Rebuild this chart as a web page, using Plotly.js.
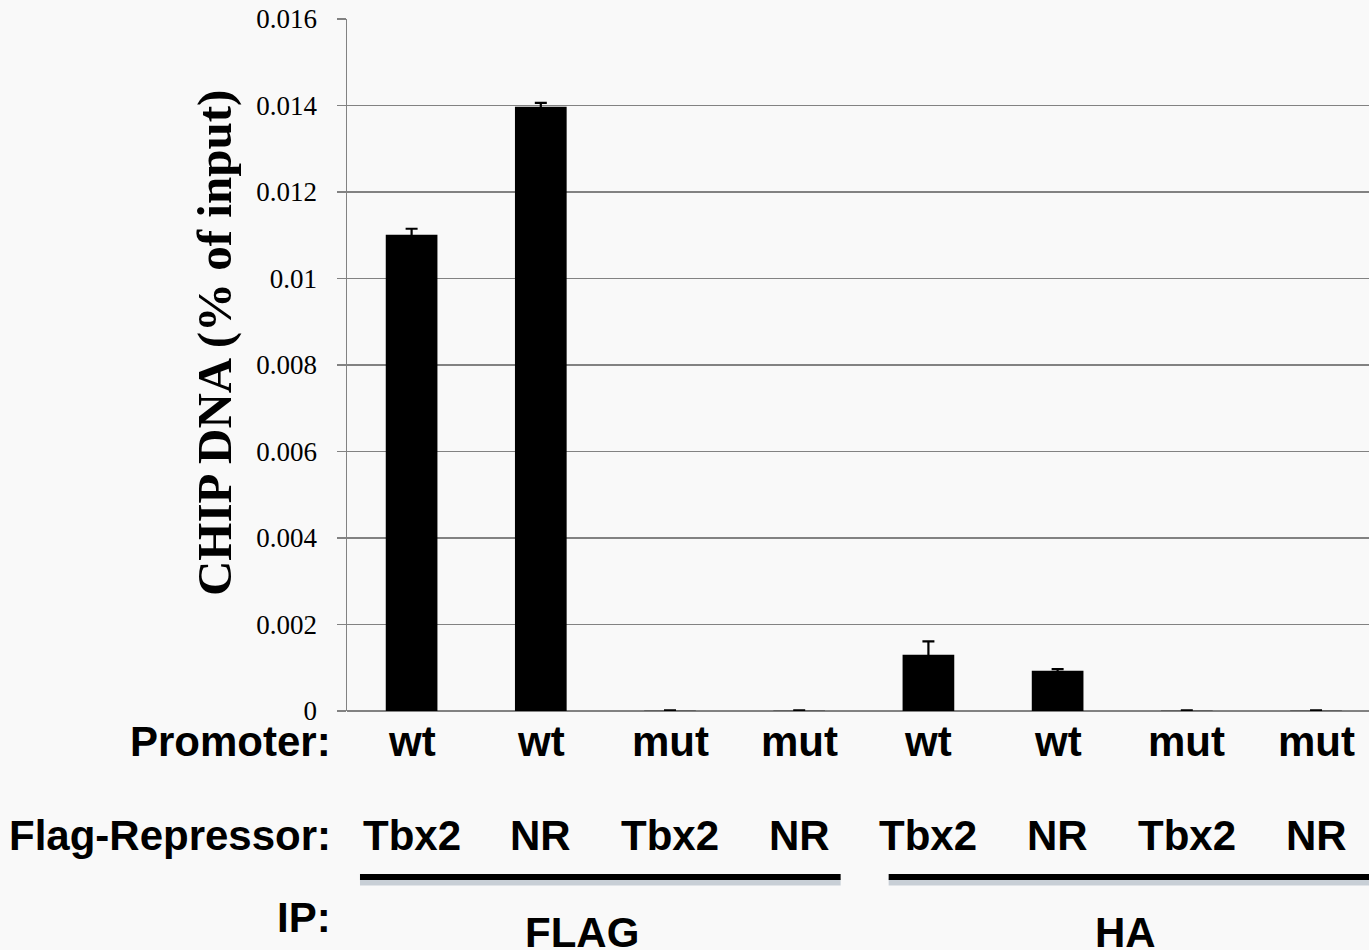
<!DOCTYPE html>
<html>
<head>
<meta charset="utf-8">
<script src="https://cdn.plot.ly/plotly-3.0.1.min.js"></script>
<style>
  html, body { margin: 0; padding: 0; background: #f9f9f9; }
  #chart { width: 1369px; height: 950px; }
</style>
</head>
<body>
<div id="chart"></div>
<script>
// ---- data ----
const promoter = ["wt", "wt", "mut", "mut", "wt", "wt", "mut", "mut"];
const repressor = ["Tbx2", "NR", "Tbx2", "NR", "Tbx2", "NR", "Tbx2", "NR"];
const ipGroups = ["FLAG", "HA"];
const values = [0.01101, 0.01397, 0.000005, 0.000005, 0.0013, 0.00093, 0.000005, 0.000005];
const errors = [0.00014, 0.00009, 0.00001, 0.00001, 0.00031, 0.00004, 0.00001, 0.00001];
const yTickVals = [0, 0.002, 0.004, 0.006, 0.008, 0.01, 0.012, 0.014, 0.016];
const yTickText = ["0", "0.002", "0.004", "0.006", "0.008", "0.01", "0.012", "0.014", "0.016"];
const yTitle = "CHIP DNA (% of input)";
const rowLabels = ["Promoter:", "Flag-Repressor:", "IP:"];

const idx = values.map((_, i) => i);

const trace = {
  type: "bar",
  x: idx,
  y: values,
  marker: { color: "#000000", line: { width: 0 } },
  error_y: { type: "data", array: errors, visible: true, color: "#000000", thickness: 2.2, width: 6 },
  hoverinfo: "skip"
};

const labelFont = { family: "Liberation Sans, Arial, sans-serif", size: 42, color: "#000000" };
const annotations = [];
promoter.forEach((p, i) => annotations.push({
  x: i, xref: "x", y: -0.044, yref: "paper", text: "<b>" + p + "</b>",
  showarrow: false, xanchor: "center", yanchor: "middle", font: labelFont
}));
repressor.forEach((r, i) => annotations.push({
  x: i, xref: "x", y: -0.18, yref: "paper", text: "<b>" + r + "</b>",
  showarrow: false, xanchor: "center", yanchor: "middle", font: labelFont
}));
const rowY = [-0.044, -0.18, -0.298];
rowLabels.forEach((t, k) => annotations.push({
  x: -0.0137, xref: "paper", y: rowY[k], yref: "paper", text: "<b>" + t + "</b>",
  showarrow: false, xanchor: "right", yanchor: "middle", font: labelFont
}));
const groupX = [0.23, 0.762];
ipGroups.forEach((g, k) => annotations.push({
  x: groupX[k], xref: "paper", y: -0.32, yref: "paper", text: "<b>" + g + "</b>",
  showarrow: false, xanchor: "center", yanchor: "middle", font: labelFont
}));
annotations.push({
  x: -0.129, xref: "paper", y: 0.532, yref: "paper", text: "<b>" + yTitle + "</b>",
  textangle: -90, showarrow: false, xanchor: "center", yanchor: "middle",
  font: { family: "Liberation Serif, Times New Roman, serif", size: 49, color: "#000000" }
});

const lineSpans = [[0.0127, 0.483], [0.530, 1.0]];
const shapes = [];
lineSpans.forEach(s => {
  shapes.push({ type: "line", xref: "paper", yref: "paper", x0: s[0], x1: s[1], y0: -0.247, y1: -0.247,
    line: { color: "rgba(110,130,150,0.35)", width: 7 } });
  shapes.push({ type: "line", xref: "paper", yref: "paper", x0: s[0], x1: s[1], y0: -0.24, y1: -0.24,
    line: { color: "#000000", width: 6 } });
});

const layout = {
  width: 1369, height: 950,
  margin: { l: 347, r: 0, t: 19, b: 239, pad: 0 },
  paper_bgcolor: "#f9f9f9",
  plot_bgcolor: "#f9f9f9",
  showlegend: false,
  bargap: 0.6,
  xaxis: {
    range: [-0.5, 7.41], showticklabels: false, showgrid: false, zeroline: false,
    showline: false, ticks: "", fixedrange: true
  },
  yaxis: {
    range: [0, 0.016], tickvals: yTickVals, ticktext: yTickText,
    showgrid: true, gridcolor: "#828282", gridwidth: 1.5,
    showline: true, linecolor: "#828282", linewidth: 1.5,
    zeroline: true, zerolinecolor: "#828282", zerolinewidth: 1.5,
    ticks: "outside", ticklen: 9, tickcolor: "#828282", tickwidth: 1.5,
    ticklabelstandoff: 14,
    tickfont: { family: "Liberation Serif, Times New Roman, serif", size: 27, color: "#000000" },
    fixedrange: true
  },
  annotations: annotations,
  shapes: shapes
};

Plotly.newPlot("chart", [trace], layout, { displayModeBar: false, staticPlot: true });
</script>
</body>
</html>
